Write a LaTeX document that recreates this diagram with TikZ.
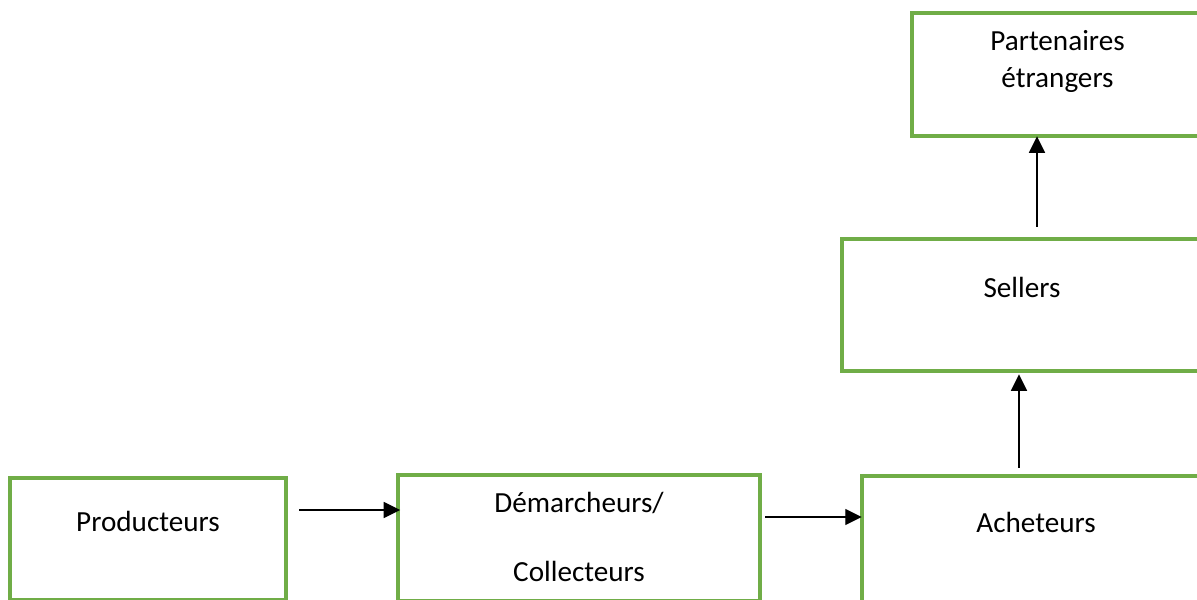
\documentclass[tikz,border=0pt]{standalone}
\usepackage{fontspec}
\setmainfont{Carlito}
\usetikzlibrary{arrows.meta, positioning}
\definecolor{boxgreen}{HTML}{70AD47}

\begin{document}
\begin{tikzpicture}[
    actor/.style={rectangle, draw=boxgreen, line width=2pt, inner sep=0pt},
    boxtext/.style={inner sep=0pt, anchor=base, align=center, font=\fontsize{16.6}{20.7}\selectfont},
    flow/.style={-{Triangle[length=0.33cm, width=0.32cm]}, line width=0.8pt}
]
    % page frame, the lower boxes run off its edges
    \useasboundingbox (0,0) rectangle (23.94,11.98);
    \clip (0,0) rectangle (23.94,11.98);

    % bottom row of the chain
    \node[actor, minimum width=5.52cm, minimum height=2.44cm,
          label={[boxtext, yshift=-1.1cm]north:Producteurs}] (prod) at (2.96,1.2) {};
    \node[actor, minimum width=7.24cm, minimum height=2.52cm,
          label={[boxtext, yshift=-2.16cm]north:Démarcheurs/\\[18.4pt]Collecteurs}] (dem) at (11.58,1.22) {};
    \node[actor, minimum width=6.96cm, minimum height=2.52cm,
          label={[boxtext, yshift=-1.16cm]north:Acheteurs}] (ach) at (20.72,1.2) {};

    % export side
    \node[actor, minimum width=7.36cm, minimum height=2.64cm,
          label={[boxtext, xshift=-0.08cm, yshift=-1.2cm]north:Sellers}] (sel) at (20.52,5.88) {};
    \node[actor, minimum width=5.96cm, minimum height=2.46cm,
          label={[boxtext, xshift=-0.07cm, yshift=-1.52cm]north:Partenaires\\étrangers}] (par) at (21.22,10.49) {};

    % arrows
    \draw[flow, shorten <=0.23cm, shorten >=-0.08cm]
        ([yshift=0.58cm]prod.east) -- ([yshift=0.58cm]prod.east -| dem.west);
    \draw[flow, shorten <=0.07cm, shorten >=-0.03cm]
        ([yshift=0.42cm]dem.east) -- ([yshift=0.42cm]dem.east -| ach.west);
    \draw[flow, shorten <=0.13cm, shorten >=0.03cm]
        ([xshift=-0.34cm]ach.north) -- ([xshift=-0.34cm]ach.north |- sel.south);
    \draw[flow, shorten <=0.21cm, shorten >=-0.03cm]
        ([xshift=0.22cm]sel.north) -- ([xshift=0.22cm]sel.north |- par.south);
\end{tikzpicture}
\end{document}
